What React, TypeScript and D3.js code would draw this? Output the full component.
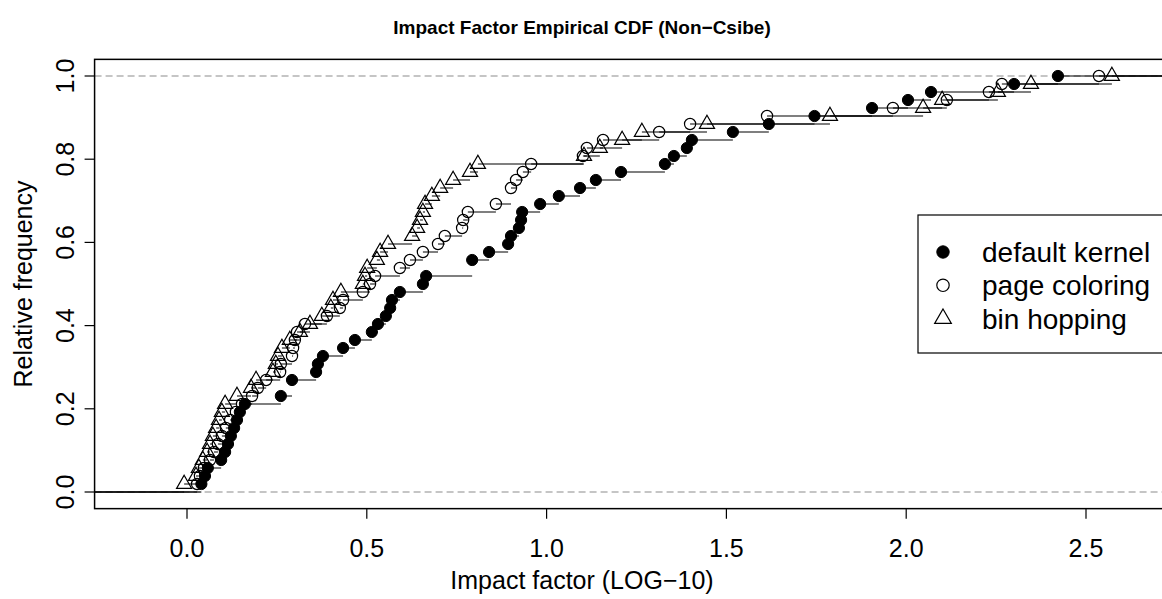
import React from "react";
import * as d3 from "d3";

// Impact factor (LOG-10) values, sorted, one entry per benchmark (ties repeated)
const defaultKernel = [
  0.04, 0.05, 0.058, 0.095, 0.106, 0.114, 0.122, 0.131, 0.139, 0.147,
  0.161, 0.261, 0.292, 0.292, 0.359, 0.364, 0.378, 0.434, 0.467, 0.514,
  0.531, 0.553, 0.565, 0.57, 0.592, 0.656, 0.665, 0.793, 0.793, 0.84,
  0.893, 0.901, 0.923, 0.929, 0.932, 0.982, 1.034, 1.093, 1.137, 1.207,
  1.329, 1.354, 1.39, 1.404, 1.518, 1.618, 1.745, 1.905, 2.005, 2.069,
  2.3, 2.422,
];
const pageColoring = [
  0.028, 0.036, 0.047, 0.064, 0.075, 0.086, 0.097, 0.108, 0.12, 0.136,
  0.153, 0.181, 0.197, 0.22, 0.259, 0.261, 0.292, 0.295, 0.3, 0.306,
  0.328, 0.389, 0.425, 0.434, 0.489, 0.509, 0.523, 0.592, 0.62, 0.656,
  0.698, 0.717, 0.765, 0.768, 0.781, 0.859, 0.901, 0.901, 0.915, 0.934,
  0.957, 1.101, 1.112, 1.157, 1.313, 1.399, 1.613, 1.963, 2.113, 2.23,
  2.266, 2.536,
];
const binHopping = [
  -0.008, 0.025, 0.033, 0.044, 0.056, 0.064, 0.072, 0.081, 0.089, 0.097,
  0.106, 0.139, 0.178, 0.192, 0.239, 0.247, 0.253, 0.264, 0.286, 0.314,
  0.342, 0.375, 0.4, 0.406, 0.428, 0.489, 0.495, 0.501, 0.528, 0.537,
  0.559, 0.626, 0.64, 0.648, 0.656, 0.662, 0.681, 0.704, 0.74, 0.787,
  0.809, 1.104, 1.148, 1.21, 1.265, 1.446, 1.788, 2.047, 2.1, 2.255,
  2.347, 2.572,
];

const seriesNames = ["default kernel", "page coloring", "bin hopping"];
const seriesValues = [defaultKernel, pageColoring, binHopping];
const seriesShapes = ["filled", "open", "triangle"];

const xTicks = [0, 0.5, 1.0, 1.5, 2.0, 2.5];
const yTicks = [0, 0.2, 0.4, 0.6, 0.8, 1.0];

const titleText = "Impact Factor Empirical CDF (Non\u2212Csibe)";
const xLabel = "Impact factor (LOG\u221210)";
const yLabel = "Relative frequency";

const W = 1162;
const H = 599;
const FONT = "'Liberation Sans', Arial, Helvetica, sans-serif";

function ecdfPoints(values: number[]) {
  const sorted = [...values].sort((a, b) => a - b);
  const n = sorted.length;
  const knots = Array.from(new Set(sorted));
  return knots.map((k) => ({
    x: k,
    y: sorted.filter((v) => v <= k).length / n,
  }));
}

function Marker({ shape, cx, cy, r = 5.6 }: { shape: string; cx: number; cy: number; r?: number }) {
  if (shape === "filled") {
    return <circle cx={cx} cy={cy} r={r} fill="#000" stroke="#000" strokeWidth={1} />;
  }
  if (shape === "open") {
    return <circle cx={cx} cy={cy} r={r} fill="none" stroke="#000" strokeWidth={1.2} />;
  }
  const xc = 1.3468 * r;
  const top = 1.5551 * r;
  const yc = 0.7776 * r;
  const d = `M${cx},${cy - top}L${cx + xc},${cy + yc}L${cx - xc},${cy + yc}Z`;
  return <path d={d} fill="none" stroke="#000" strokeWidth={1.2} strokeLinejoin="miter" />;
}

export default function App() {
  const x = d3.scaleLinear().domain([0, 2.5]).range([187, 1086]);
  const y = d3.scaleLinear().domain([0, 1]).range([492, 76]);
  const left = x(-0.257);
  const right = x(2.83);
  const top = y(1.04);
  const bottom = y(-0.04);

  const series = seriesValues.map((vals) => ecdfPoints(vals));

  return (
    <svg
      width={W}
      height={H}
      style={{ position: "absolute", left: 0, top: 0, background: "#fff" }}
      fontFamily={FONT}
    >
      <rect x={0} y={0} width={W} height={H} fill="#fff" />
      <defs>
        <clipPath id="plotClip">
          <rect x={left} y={top} width={right - left} height={bottom - top} />
        </clipPath>
      </defs>

      {/* reference lines */}
      {[0, 1].map((v) => (
        <line
          key={v}
          x1={left}
          x2={right}
          y1={y(v)}
          y2={y(v)}
          stroke="#b3b3b3"
          strokeWidth={1.5}
          strokeDasharray="7,4"
        />
      ))}

      <g clipPath="url(#plotClip)">
        {series.map((pts, si) => (
          <g key={si}>
            <line x1={left} x2={x(pts[0].x)} y1={y(0)} y2={y(0)} stroke="#000" strokeWidth={1.2} />
            {pts.map((p, i) => {
              const nx = i < pts.length - 1 ? x(pts[i + 1].x) : right;
              return (
                <line
                  key={i}
                  x1={x(p.x)}
                  x2={nx}
                  y1={y(p.y)}
                  y2={y(p.y)}
                  stroke="#000"
                  strokeWidth={1.2}
                />
              );
            })}
            {pts.map((p, i) => (
              <Marker key={"m" + i} shape={seriesShapes[si]} cx={x(p.x)} cy={y(p.y)} />
            ))}
          </g>
        ))}
      </g>

      {/* box */}
      <rect x={left} y={top} width={right - left} height={bottom - top} fill="none" stroke="#000" strokeWidth={1.5} />

      {/* x axis */}
      {xTicks.map((t) => (
        <g key={t}>
          <line x1={x(t)} x2={x(t)} y1={bottom} y2={bottom + 10} stroke="#000" strokeWidth={1.2} />
          <text x={x(t)} y={557} textAnchor="middle" fontSize={25} fill="#000">
            {t.toFixed(1)}
          </text>
        </g>
      ))}

      {/* y axis */}
      {yTicks.map((t) => (
        <g key={t}>
          <line x1={left} x2={left - 10} y1={y(t)} y2={y(t)} stroke="#000" strokeWidth={1.2} />
          <text
            transform={`translate(74,${y(t)}) rotate(-90)`}
            textAnchor="middle"
            fontSize={25}
            fill="#000"
          >
            {t.toFixed(1)}
          </text>
        </g>
      ))}

      {/* labels */}
      <text x={582} y={34} textAnchor="middle" fontSize={19} fontWeight="bold" fill="#000">
        {titleText}
      </text>
      <text x={582} y={589} textAnchor="middle" fontSize={25} fill="#000">
        {xLabel}
      </text>
      <text transform={`translate(32,${(top + bottom) / 2}) rotate(-90)`} textAnchor="middle" fontSize={25} fill="#000">
        {yLabel}
      </text>

      {/* legend */}
      <rect x={918} y={215} width={300} height={138} fill="#fff" stroke="#000" strokeWidth={1.2} />
      {seriesNames.map((name, i) => {
        const ry = 252 + i * 33.3;
        return (
          <g key={name}>
            <Marker shape={seriesShapes[i]} cx={943} cy={ry} r={6.2} />
            <text x={982} y={ry + 10} fontSize={28} fill="#000">
              {name}
            </text>
          </g>
        );
      })}
    </svg>
  );
}
